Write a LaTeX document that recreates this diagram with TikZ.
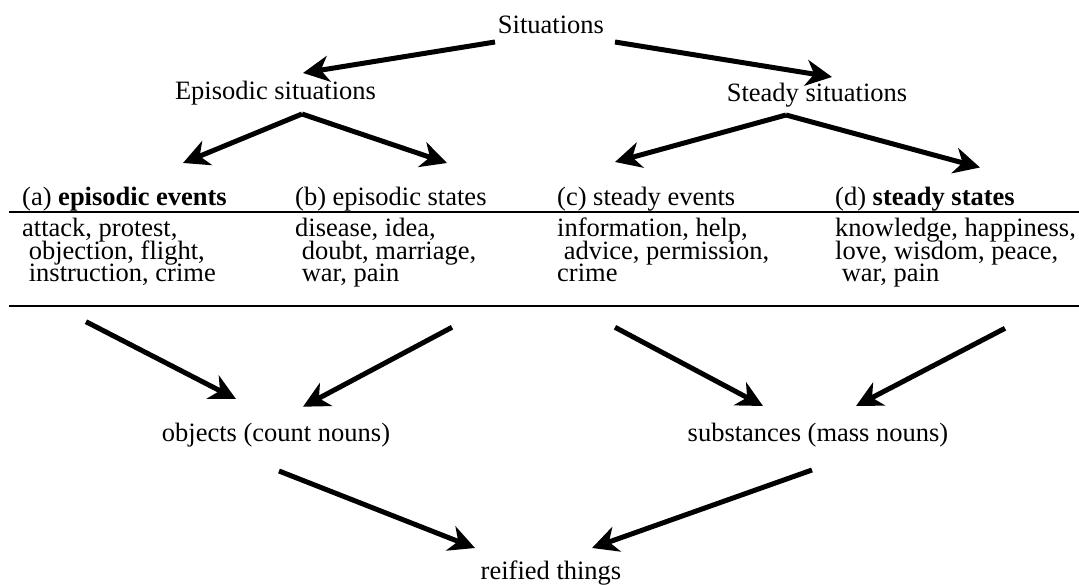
\documentclass[tikz,border=0pt]{standalone}
\usepackage{fontspec}
\setmainfont{Liberation Serif}
\usetikzlibrary{arrows.meta}
\newcommand{\indsp}{\hspace*{0.25em}}
\begin{document}
\begin{tikzpicture}[x=1pt,y=-1pt,
  lbl/.style={inner sep=0pt, font=\fontsize{26.5pt}{23.5pt}\selectfont},
  ctr/.style={lbl, anchor=base},
  col/.style={lbl, anchor=base west},
  bigarrow/.style={line width=5pt, -{Stealth[length=26pt,width=26pt,inset=8pt]}},
  rulel/.style={line width=2pt}]
\useasboundingbox (0,0) rectangle (1079,585);
% top labels
\node[ctr] (sit) at (551,34) {Situations};
\node[ctr] (epi) at (275.5,100) {Episodic situations};
\node[ctr] (ste) at (817,102) {Steady situations};
% headings
\node[col] (ha) at (22,206) {(a) \textbf{episodic events}};
\node[col] (hb) at (295,206) {(b) episodic states};
\node[col] (hc) at (557,206) {(c) steady events};
\node[col] (hd) at (835,206) {(d) \textbf{steady states}};
% lists
\node[col] (a1) at (22,236.5) {attack, protest,};
\node[col] (a2) at (22,259.3) {\indsp objection, flight,};
\node[col] (a3) at (22,282) {\indsp instruction, crime};
\node[col] (b1) at (295,236.5) {disease, idea,};
\node[col] (b2) at (295,259.3) {\indsp doubt, marriage,};
\node[col] (b3) at (295,282) {\indsp war, pain};
\node[col] (c1) at (557,236.5) {information, help,};
\node[col] (c2) at (557,259.3) {\indsp advice, permission,};
\node[col] (c3) at (557,282) {crime};
\node[col] (d1) at (835,236.5) {knowledge, happiness,};
\node[col] (d2) at (835,259.3) {love, wisdom, peace,};
\node[col] (d3) at (835,282) {\indsp war, pain};
% lower labels
\node[ctr] (obj) at (276,441.7) {objects (count nouns)};
\node[ctr] (sub) at (818,441.7) {substances (mass nouns)};
\node[ctr] (rei) at (551,579) {reified things};
% rules
\coordinate (r1l) at (9,212.5); \coordinate (r1r) at (1079,212.5);
\coordinate (r2l) at (9,306); \coordinate (r2r) at (1079,306);
\draw[rulel] (r1l) -- (r1r);
\draw[rulel] (r2l) -- (r2r);
% arrow end points
\coordinate (s1) at (495,42);  \coordinate (e1) at (303,73);
\coordinate (s2) at (615,42);  \coordinate (e2) at (832,77);
\coordinate (epiA) at (302,114);
\coordinate (ta) at (183,163); \coordinate (tb) at (447,163);
\coordinate (steA) at (786,115);
\coordinate (tc) at (615,162); \coordinate (td) at (980,167.5);
\coordinate (fa) at (86,321.7);  \coordinate (ga) at (236,399);
\coordinate (fb) at (452,327.3); \coordinate (gb) at (303,406.7);
\coordinate (fc) at (615,327.3); \coordinate (gc) at (763,406);
\coordinate (fd) at (1005,328.3); \coordinate (gd) at (856,406);
\coordinate (fo) at (279,471); \coordinate (go) at (475,548);
\coordinate (fs) at (812,470); \coordinate (gs) at (592,548);
% arrows
\draw[bigarrow] (s1) -- (e1);
\draw[bigarrow] (s2) -- (e2);
\draw[bigarrow] (epiA) -- (ta);
\draw[bigarrow] (epiA) -- (tb);
\draw[bigarrow] (steA) -- (tc);
\draw[bigarrow] (steA) -- (td);
\draw[bigarrow] (fa) -- (ga);
\draw[bigarrow] (fb) -- (gb);
\draw[bigarrow] (fc) -- (gc);
\draw[bigarrow] (fd) -- (gd);
\draw[bigarrow] (fo) -- (go);
\draw[bigarrow] (fs) -- (gs);
\end{tikzpicture}
\end{document}
